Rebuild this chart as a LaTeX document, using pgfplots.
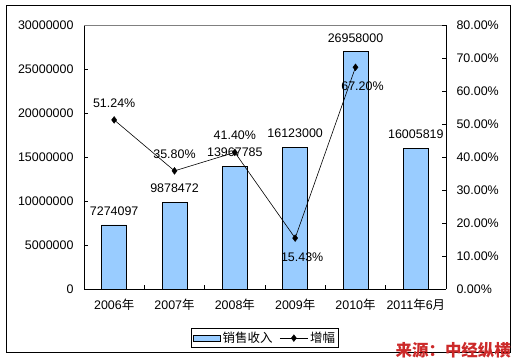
\documentclass[border=0pt]{standalone}
\usepackage{pgfplots}
\pgfplotsset{compat=1.18}
\usepackage{fontspec}
\setmainfont{Liberation Sans}
\newfontfamily\cjk{Noto Sans CJK SC}
\definecolor{barblue}{HTML}{99CCFF}
\definecolor{srcred}{HTML}{CC2A2A}
\definecolor{topgray}{HTML}{808080}
\newcommand{\tfont}{\fontsize{12.5}{15}\selectfont}
\pgfplotsset{
  barlegend/.style={legend image code/.code={\draw[fill=barblue,draw=black,line width=0.8bp] (0bp,-3bp) rectangle (27bp,3bp);}},
  linelegend/.style={legend image code/.code={\draw[##1, mark repeat=2, mark phase=2] plot coordinates {(0bp,0bp) (14bp,0bp) (28bp,0bp)};}},
}
\begin{document}
\begin{tikzpicture}
\useasboundingbox (0bp,0bp) rectangle (517bp,-363bp);
\draw[black, line width=0.9bp] (6bp,-5bp) rectangle (510bp,-352bp);
\begin{axis}[
  at={(84bp,-289bp)}, anchor=south west,
  scale only axis, width=362bp, height=264bp,
  xmin=-0.5, xmax=5.5, ymin=0, ymax=30000000,
  axis x line*=bottom, axis y line*=left,
  axis line style={black, line width=0.8bp},
  ybar, bar width=25bp,
  xtick={0,1,2,3,4,5},
  xticklabels={2006{\cjk 年},2007{\cjk 年},2008{\cjk 年},2009{\cjk 年},2010{\cjk 年},2011{\cjk 年}6{\cjk 月}},
  minor xtick={0.5,1.5,2.5,3.5,4.5},
  ytick={0,5000000,10000000,15000000,20000000,25000000,30000000},
  yticklabels={0,5000000,10000000,15000000,20000000,25000000,30000000},
  scaled y ticks=false,
  tick align=inside, major tick length=4bp, minor tick length=4bp,
  major x tick style={draw=none},
  minor x tick style={black, line width=0.8bp},
  major y tick style={black, line width=0.8bp},
  ticklabel style={font=\tfont},
  yticklabel style={xshift=-7bp},
  xticklabel style={yshift=-6bp},
  /pgf/number format/assume math mode=true,
  clip=false,
]
\addplot[fill=barblue, draw=black, line width=0.8bp,
  nodes near coords, point meta=explicit symbolic,
  every node near coord/.style={anchor=center, yshift=13.5bp, font=\tfont, black}]
  coordinates {(0,7274097) [7274097] (1,9878472) [9878472] (2,13967785) [13967785]
               (3,16123000) [16123000] (4,26958000) [26958000] (5,16005819) [16005819]};
\draw[topgray, line width=0.8bp] (rel axis cs:0,1) -- (rel axis cs:1,1);
\end{axis}
\begin{axis}[
  at={(84bp,-289bp)}, anchor=south west,
  scale only axis, width=362bp, height=264bp,
  xmin=-0.5, xmax=5.5, ymin=0, ymax=80,
  axis x line=none, axis y line*=right,
  axis line style={black, line width=0.8bp},
  ytick={0,10,20,30,40,50,60,70,80},
  yticklabels={0.00\%,10.00\%,20.00\%,30.00\%,40.00\%,50.00\%,60.00\%,70.00\%,80.00\%},
  scaled y ticks=false,
  tick align=inside, major tick length=4bp,
  major y tick style={black, line width=0.8bp},
  ticklabel style={font=\tfont},
  yticklabel style={xshift=7bp},
  /pgf/number format/assume math mode=true,
  clip=false,
  legend style={at={(0.5,-0.186)}, anchor=center, draw=black, line width=0.8bp,
    font=\tfont, legend columns=2, inner sep=1.5bp,
    /tikz/every even column/.append style={column sep=5bp}},
]
\addlegendimage{barlegend}
\addlegendentry{\cjk 销售收入}
\addplot[black, line width=0.6bp, mark=diamond*, mark size=3.4bp, mark options={fill=black, line width=0.4bp}, linelegend]
  coordinates {(0,51.24) (1,35.80) (2,41.40) (3,15.43) (4,67.20)};
\addlegendentry{\cjk 增幅}
\addplot[draw=none, mark=none, forget plot, nodes near coords, point meta=explicit symbolic,
  every node near coord/.style={anchor=center, yshift=17bp, font=\tfont, black}]
  coordinates {(0,51.24) [51.24\%] (1,35.80) [35.80\%] (2,41.40) [41.40\%]};
\addplot[draw=none, mark=none, forget plot, nodes near coords, point meta=explicit symbolic,
  every node near coord/.style={anchor=center, yshift=-19bp, xshift=7bp, font=\tfont, black}]
  coordinates {(3,15.43) [15.43\%] (4,67.20) [67.20\%]};
\end{axis}
\node[anchor=east, text=srcred, font=\cjk\bfseries\fontsize{16.5}{18}\selectfont, inner sep=0pt] at (511bp,-350bp) {来源：中经纵横};
\end{tikzpicture}
\end{document}
